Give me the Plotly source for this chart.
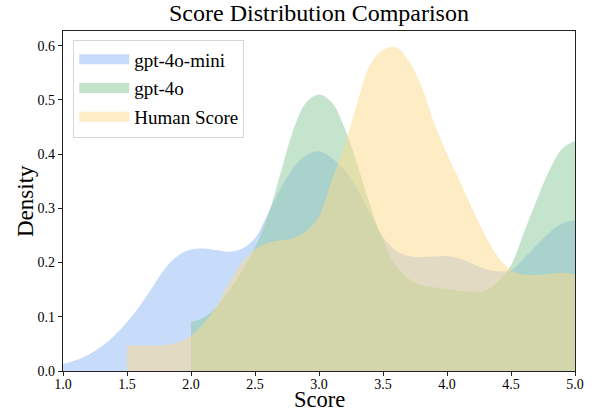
import plotly.graph_objects as go

# ---- data ----
mini_x = [1.0, 1.1, 1.2, 1.3, 1.4, 1.5, 1.6, 1.7, 1.8, 1.9, 2.0, 2.1, 2.2, 2.3, 2.4, 2.5,
          2.6, 2.7, 2.8, 2.9, 3.0, 3.1, 3.2, 3.3, 3.4, 3.5, 3.6, 3.7, 3.8, 3.9, 4.0,
          4.1, 4.2, 4.3, 4.4, 4.5, 4.6, 4.7, 4.8, 4.9, 5.0]
mini_y = [0.013, 0.02, 0.03, 0.045, 0.065, 0.09, 0.12, 0.155, 0.19, 0.213, 0.224, 0.226, 0.223,
          0.22, 0.226, 0.245, 0.29, 0.337, 0.375, 0.398, 0.405, 0.393, 0.37, 0.335, 0.29, 0.247,
          0.222, 0.212, 0.21, 0.211, 0.212, 0.207, 0.198, 0.188, 0.184, 0.186, 0.208, 0.232,
          0.255, 0.272, 0.278]

gpt4o_x = [2.0, 2.1, 2.2, 2.3, 2.4, 2.5, 2.6, 2.7, 2.8, 2.9, 3.0, 3.1, 3.2, 3.3, 3.4, 3.5,
           3.6, 3.7, 3.8, 3.9, 4.0, 4.1, 4.2, 4.3, 4.4, 4.5, 4.6, 4.7, 4.8, 4.9, 5.0]
gpt4o_y = [0.091, 0.098, 0.118, 0.149, 0.185, 0.228, 0.285, 0.365, 0.445, 0.495, 0.51, 0.495,
           0.448, 0.38, 0.305, 0.24, 0.195, 0.17, 0.158, 0.154, 0.151, 0.148, 0.146, 0.148,
           0.165, 0.195, 0.255, 0.315, 0.37, 0.41, 0.424]

human_x = [1.5, 1.6, 1.7, 1.8, 1.9, 2.0, 2.1, 2.2, 2.3, 2.4, 2.5, 2.6, 2.7, 2.8, 2.9, 3.0,
           3.1, 3.2, 3.3, 3.4, 3.5, 3.6, 3.7, 3.8, 3.9, 4.0, 4.1, 4.2, 4.3, 4.4, 4.5,
           4.6, 4.7, 4.8, 4.9, 5.0]
human_y = [0.047, 0.047, 0.047, 0.048, 0.053, 0.065, 0.088, 0.12, 0.163, 0.2, 0.224, 0.236,
           0.241, 0.245, 0.258, 0.285, 0.352, 0.415, 0.495, 0.565, 0.592, 0.597, 0.572, 0.525,
           0.457, 0.40, 0.35, 0.298, 0.25, 0.21, 0.186, 0.178, 0.177, 0.179, 0.181, 0.178]

series = [
    ("gpt-4o-mini", mini_x, mini_y, "rgba(143,184,246,0.5)"),
    ("gpt-4o", gpt4o_x, gpt4o_y, "rgba(140,201,158,0.5)"),
    ("Human Score", human_x, human_y, "rgba(253,217,137,0.5)"),
]

x_ticks = [1.0, 1.5, 2.0, 2.5, 3.0, 3.5, 4.0, 4.5, 5.0]
y_ticks = [0.0, 0.1, 0.2, 0.3, 0.4, 0.5, 0.6]

FONT = "Liberation Serif, Times New Roman, serif"

fig = go.Figure()
for name, xs, ys, col in series:
    fig.add_trace(go.Scatter(
        x=xs, y=ys, name=name, mode="lines", legendgroup=name, showlegend=False,
        line=dict(width=0, shape="spline", color=col),
        fill="tozeroy", fillcolor=col,
    ))
# legend swatches (thick lines look like the reference's patches)
for name, xs, ys, col in series:
    fig.add_trace(go.Scatter(
        x=[None], y=[None], name=name, mode="lines", legendgroup=name,
        line=dict(width=16, color=col),
    ))

fig.update_layout(
    width=594, height=415,
    margin=dict(l=63, r=19, t=31, b=44, autoexpand=False),
    paper_bgcolor="white", plot_bgcolor="white",
    font=dict(family=FONT, color="black", size=14),
    title=dict(text="Score Distribution Comparison", x=0.537, xanchor="center",
               y=0.99, yanchor="top", font=dict(size=24, family=FONT)),
    legend=dict(x=0.02, y=0.975, xanchor="left", yanchor="top",
                bgcolor="rgba(255,255,255,0.8)", bordercolor="#d6d6d6", borderwidth=1,
                font=dict(size=19, family=FONT), itemwidth=50, tracegroupgap=1),
    showlegend=True,
    annotations=[
        dict(text="Score", xref="paper", yref="paper", x=0.5, y=0, xanchor="center",
             yanchor="middle", yshift=-28, showarrow=False, borderpad=0,
             font=dict(size=22.5, family=FONT)),
        dict(text="Density", xref="paper", yref="paper", x=0, y=0.5, xanchor="center",
             yanchor="middle", xshift=-38, textangle=-90, showarrow=False,
             font=dict(size=23, family=FONT)),
    ],
)
fig.update_xaxes(
    range=[1.0, 5.0], tickvals=x_ticks, ticktext=[f"{v:.1f}" for v in x_ticks],
    showgrid=False, zeroline=False, showline=True, linecolor="#222", linewidth=1.2,
    mirror=True, ticks="outside", ticklen=4, tickcolor="#222", automargin=False,
    tickfont=dict(size=14, family=FONT),
)
fig.update_yaxes(
    range=[0, 0.627], tickvals=y_ticks, ticktext=[f"{v:.1f}" for v in y_ticks],
    showgrid=False, zeroline=False, showline=True, linecolor="#222", linewidth=1.2,
    mirror=True, ticks="outside", ticklen=4, tickcolor="#222", automargin=False,
    tickfont=dict(size=14, family=FONT),
)
try:
    fig.update_xaxes(ticklabelstandoff=-4)
except Exception:
    pass

fig.write_html(
    "out.html",
    config={"displayModeBar": False},
    post_script="document.body.style.margin='0';document.documentElement.style.overflow='hidden';",
)
